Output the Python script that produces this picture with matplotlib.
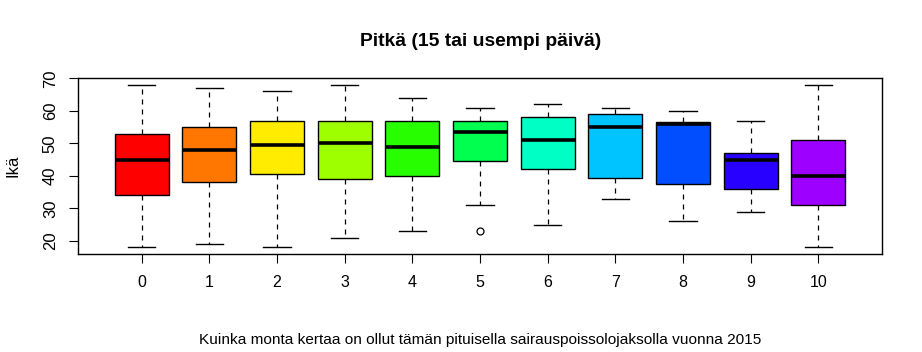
import matplotlib
matplotlib.use("Agg")
import matplotlib.pyplot as plt

# ryhmät (montako kertaa) ja laatikoiden tunnusluvut luettuna kuvasta
groups = ["0", "1", "2", "3", "4", "5", "6", "7", "8", "9", "10"]
whislo = [18, 19, 18, 21, 23, 31, 25, 33, 26, 29, 18]
q1 = [34, 38, 40.5, 39, 40, 44.5, 42, 39.5, 37.5, 36, 31]
med = [45, 48, 49.5, 50, 49, 53.5, 51, 55, 56, 45, 40]
q3 = [53, 55, 57, 57, 57, 57, 58, 59, 56.5, 47, 51]
whishi = [68, 67, 66, 68, 64, 61, 62, 61, 60, 57, 68]
fliers = [[], [], [], [], [], [23], [], [], [], [], []]

# rainbow(13)[1:11] kuten R:ssä
colors = ["#FF0000", "#FF7600", "#FFEC00", "#9DFF00", "#27FF00", "#00FF4E",
          "#00FFC4", "#00C4FF", "#004EFF", "#2700FF", "#9D00FF"]

plt.rcParams['font.family'] = ['Liberation Sans', 'DejaVu Sans']

fig = plt.figure(figsize=(9.22, 3.52), dpi=100)
ax = fig.add_axes([78 / 922, 1 - 254 / 352, 804 / 922, 176 / 352])

stats = []
for i, g in enumerate(groups):
    stats.append(dict(label=g, whislo=whislo[i], q1=q1[i], med=med[i],
                      q3=q3[i], whishi=whishi[i], fliers=fliers[i]))

pos = list(range(1, len(groups) + 1))
bp = ax.bxp(stats, positions=pos, widths=0.8, capwidths=0.4, patch_artist=True,
            boxprops=dict(edgecolor='black', linewidth=1.0),
            medianprops=dict(color='black', linewidth=2.6, solid_capstyle='butt'),
            whiskerprops=dict(color='black', linewidth=0.9, linestyle=(0, (4, 4))),
            capprops=dict(color='black', linewidth=1.0),
            flierprops=dict(marker='o', markerfacecolor='none', markeredgecolor='black',
                            markersize=5, markeredgewidth=0.9))
for patch, c in zip(bp['boxes'], colors):
    patch.set_facecolor(c)

ax.set_xlim(0.06, 11.94)
ax.set_ylim(16, 70.1)
ax.set_xticks(pos)
ax.set_xticklabels(groups)
ax.set_yticks([20, 30, 40, 50, 60, 70])
ax.tick_params(axis='x', length=6.5, width=0.8, pad=8.5, labelsize=11.5)
ax.tick_params(axis='y', length=6.5, width=0.8, pad=8, labelsize=12)
for lab in ax.get_yticklabels():
    lab.set_rotation(90)
    lab.set_va('center')
for sp in ax.spines.values():
    sp.set_linewidth(1.0)

fig.text(481 / 922, 1 - 41 / 352, "Pitkä (15 tai usempi päivä)", ha='center', va='center',
         fontsize=13.9, fontweight='bold')
fig.text(13 / 922, 1 - 166 / 352, "Ikä", ha='center', va='center', rotation=90, fontsize=12)
fig.text(480 / 922, 1 - 340 / 352,
         "Kuinka monta kertaa on ollut tämän pituisella sairauspoissolojaksolla vuonna 2015",
         ha='center', va='center', fontsize=11.1)

fig.savefig("out.png", dpi=100)
